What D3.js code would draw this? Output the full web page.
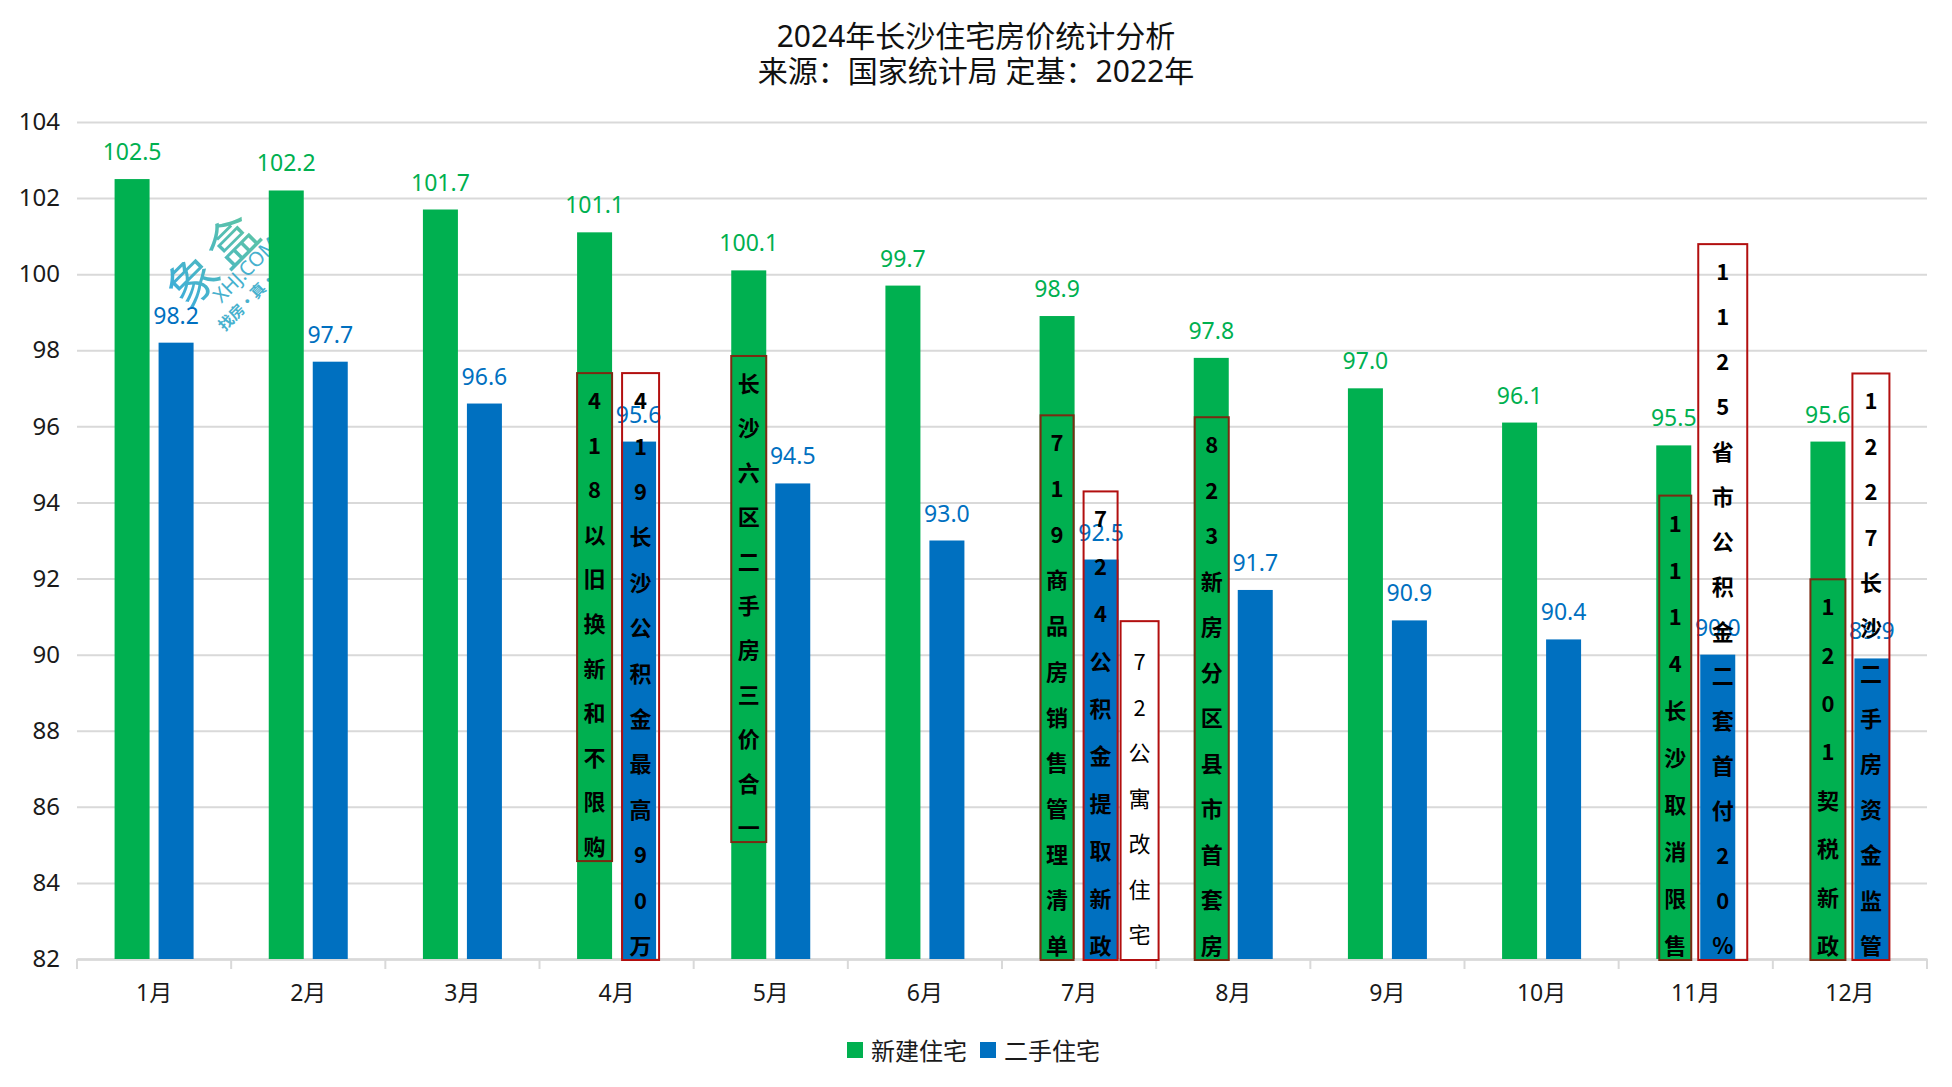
<!DOCTYPE html>
<html>
<head>
<meta charset="utf-8">
<script src="https://cdn.jsdelivr.net/npm/d3@7"></script>
<style>
  html, body { margin: 0; padding: 0; background: #ffffff; }
  svg { display: block; }
</style>
</head>
<body>
<svg id="chart" width="1952" height="1087"></svg>
<script>
// ---------------- DATA ----------------
const months = ["1月","2月","3月","4月","5月","6月","7月","8月","9月","10月","11月","12月"];
const seriesNames = ["新建住宅","二手住宅"];
const newHomes   = [102.5,102.2,101.7,101.1,100.1,99.7,98.9,97.8,97.0,96.1,95.5,95.6];
const secondHand = [98.2,97.7,96.6,95.6,94.5,93.0,92.5,91.7,90.9,90.4,90.0,89.9];
const yTicks = [82,84,86,88,90,92,94,96,98,100,102,104];
const titleLines = ["2024年长沙住宅房价统计分析","来源：国家统计局 定基：2022年"];

const annotationMonths = ["4月","4月","5月","7月","7月","7月","8月","11月","11月","12月","12月"];
const annotationTexts = [
  "418以旧换新和不限购",
  "419长沙公积金最高90万",
  "长沙六区二手房三价合一",
  "719商品房销售管理清单",
  "724公积金提取新政",
  "72公寓改住宅",
  "823新房分区县市首套房",
  "1114长沙取消限售",
  "1125省市公积金二套首付20%",
  "1201契税新政",
  "1227长沙二手房资金监管"
];

// ---------------- LAYOUT / STYLE ----------------
const W = 1952, H = 1087;
const plot = { left: 77, right: 1927, top: 122, bottom: 959 };
const colors = ["#00B050", "#0070C0"];
const gridColor = "#d9d9d9";
const boxStroke = "#b20f0f";
const boxStrokeOnGreen = "#7a2a12";
const fontStack = "'Noto Sans', 'Noto Sans CJK SC', sans-serif";
const cjkStack = "'Noto Sans CJK SC', 'Noto Sans', sans-serif";

// box placement per annotation (slot: 0 green bar, 1 blue bar, 2 right of blue bar)
const annotationLayout = [
  { slot: 0, top: 97.4,  bottom: 84.6, dx0: 0,  dx1: 0 },
  { slot: 1, top: 97.4,  bottom: 82,   dx0: 1,  dx1: 3 },
  { slot: 0, top: 97.85, bottom: 85.1, dx0: 0,  dx1: 0 },
  { slot: 0, top: 96.29, bottom: 82,   dx0: 1,  dx1: -1 },
  { slot: 1, top: 94.29, bottom: 82,   dx0: 0,  dx1: -1 },
  { slot: 2, top: 90.88, bottom: 82,   dx0: -7, dx1: -4, fill: "#ffffff", weight: 400, padTop: 39, padBottom: 27 },
  { slot: 0, top: 96.24, bottom: 82,   dx0: 1,  dx1: 0 },
  { slot: 0, top: 94.18, bottom: 82,   dx0: 3,  dx1: 0 },
  { slot: 1, top: 100.79,bottom: 82,   dx0: -2, dx1: 12 },
  { slot: 0, top: 91.98, bottom: 82,   dx0: 0,  dx1: 0 },
  { slot: 1, top: 97.39, bottom: 82,   dx0: -2, dx1: 0 }
];

const svg = d3.select("#chart");
svg.append("rect").attr("width", W).attr("height", H).attr("fill", "#ffffff");

// ---------------- SCALES ----------------
const x = d3.scaleBand().domain(months).range([plot.left, plot.right]).paddingInner(0).paddingOuter(0);
const groupWidth = 79;
const subStep = 44, subWidth = 35;
const groupStart = m => x(m) + (x.bandwidth() - groupWidth) / 2;
const y = d3.scaleLinear().domain([82, 104]).range([plot.bottom, plot.top]);

// ---------------- TITLE ----------------
svg.append("g").selectAll("text").data(titleLines).join("text")
  .attr("x", 976)
  .attr("y", (d, i) => 35 + i * 35)
  .attr("text-anchor", "middle")
  .attr("dominant-baseline", "central")
  .attr("font-family", fontStack)
  .attr("font-size", 30)
  .attr("fill", "#111")
  .text(d => d);

// ---------------- Y AXIS + GRID ----------------
const yAxis = d3.axisLeft(y)
  .tickValues(yTicks)
  .tickSize(-(plot.right - plot.left))
  .tickPadding(17)
  .tickFormat(d3.format("d"));
const gy = svg.append("g").attr("transform", `translate(${plot.left},0)`).call(yAxis);
gy.select(".domain").remove();
gy.selectAll(".tick line").attr("stroke", gridColor).attr("stroke-width", 2);
gy.selectAll(".tick text")
  .attr("font-family", fontStack).attr("font-size", 24).attr("fill", "#1a1a1a");

// ---------------- X AXIS ----------------
const xAxis = d3.axisBottom(x).tickSize(0).tickPadding(0);
const gx = svg.append("g").attr("transform", `translate(0,${plot.bottom})`).call(xAxis);
gx.select(".domain").attr("stroke", gridColor).attr("stroke-width", 2.5);
gx.selectAll(".tick text")
  .attr("y", 33)
  .attr("dy", 0)
  .attr("dominant-baseline", "central")
  .attr("font-family", fontStack).attr("font-size", 23).attr("fill", "#1a1a1a");
// boundary ticks
const boundaries = months.map(m => x(m)).concat([plot.right]);
svg.append("g").selectAll("line").data(boundaries).join("line")
  .attr("x1", d => d).attr("x2", d => d)
  .attr("y1", plot.bottom).attr("y2", plot.bottom + 10)
  .attr("stroke", gridColor).attr("stroke-width", 2);

// ---------------- WATERMARK ----------------
const wm = svg.append("g").attr("transform", "translate(212,256) rotate(-45)").attr("opacity", 0.9);
const grad = svg.append("defs").append("linearGradient").attr("id", "wmg")
  .attr("x1", "0%").attr("x2", "100%").attr("y1", "0%").attr("y2", "0%");
grad.append("stop").attr("offset", "0%").attr("stop-color", "#2aa5d6");
grad.append("stop").attr("offset", "100%").attr("stop-color", "#4dbf9a");
wm.append("text").attr("x", 0).attr("y", 0)
  .attr("text-anchor", "middle").attr("dominant-baseline", "central")
  .attr("font-family", cjkStack).attr("font-size", 50).attr("font-weight", 400)
  .attr("letter-spacing", 6).attr("fill", "url(#wmg)").text("象盒");
wm.append("text").attr("x", 14).attr("y", 33)
  .attr("text-anchor", "middle").attr("dominant-baseline", "central")
  .attr("font-family", fontStack).attr("font-size", 20)
  .attr("fill", "#33a9c9").text("XHJ.COM");
wm.append("text").attr("x", 8).attr("y", 56)
  .attr("text-anchor", "middle").attr("dominant-baseline", "central")
  .attr("font-family", cjkStack).attr("font-size", 15).attr("font-weight", 700)
  .attr("fill", "#33a9c9").text("找房·真·简单");

// ---------------- BARS ----------------
const seriesValues = [newHomes, secondHand];
const barData = [];
seriesValues.forEach((vals, s) => vals.forEach((v, i) => barData.push({ s, m: months[i], v })));

svg.append("g").selectAll("rect").data(barData).join("rect")
  .attr("x", d => groupStart(d.m) + d.s * subStep)
  .attr("width", subWidth)
  .attr("y", d => y(d.v))
  .attr("height", d => y(82) - y(d.v))
  .attr("fill", d => colors[d.s]);

// ---------------- VALUE LABELS ----------------
svg.append("g").selectAll("text").data(barData).join("text")
  .attr("x", d => groupStart(d.m) + d.s * subStep + subWidth / 2)
  .attr("y", d => y(d.v) - 19)
  .attr("text-anchor", "middle")
  .attr("font-family", fontStack)
  .attr("font-size", 23)
  .attr("fill", d => colors[d.s])
  .text(d => d3.format(".1f")(d.v));

// ---------------- ANNOTATIONS ----------------
const annData = annotationTexts.map((t, i) => ({ t, m: annotationMonths[i], L: annotationLayout[i] }));
const ag = svg.append("g");
annData.forEach(a => {
  const L = a.L;
  const bx0 = groupStart(a.m) + L.slot * subStep + L.dx0;
  const bx1 = groupStart(a.m) + L.slot * subStep + subWidth + L.dx1;
  const by0 = y(L.top), by1 = y(L.bottom) + 1;
  ag.append("rect")
    .attr("x", bx0).attr("y", by0)
    .attr("width", bx1 - bx0).attr("height", by1 - by0)
    .attr("fill", L.fill || "none")
    .attr("stroke", L.slot === 0 ? boxStrokeOnGreen : boxStroke)
    .attr("stroke-width", 2);
  const chars = Array.from(a.t);
  const pt = L.padTop ?? 26, pb = L.padBottom ?? 16;
  const first = by0 + pt, last = by1 - pb;
  const step = (last - first) / (chars.length - 1);
  ag.append("g").selectAll("text").data(chars).join("text")
    .attr("x", (bx0 + bx1) / 2)
    .attr("y", (d, i) => first + i * step)
    .attr("text-anchor", "middle")
    .attr("dominant-baseline", "central")
    .attr("font-family", cjkStack)
    .attr("font-size", 22)
    .attr("font-weight", L.weight ?? 700)
    .attr("fill", "#000")
    .text(d => d);
});

// ---------------- LEGEND ----------------
const legend = svg.append("g");
const legendX = [847, 980];
seriesNames.forEach((name, i) => {
  legend.append("rect").attr("x", legendX[i]).attr("y", 1042).attr("width", 16).attr("height", 16).attr("fill", colors[i]);
  legend.append("text").attr("x", legendX[i] + 24).attr("y", 1050)
    .attr("dominant-baseline", "central")
    .attr("font-family", fontStack).attr("font-size", 24).attr("fill", "#1a1a1a")
    .text(name);
});
</script>
</body>
</html>
